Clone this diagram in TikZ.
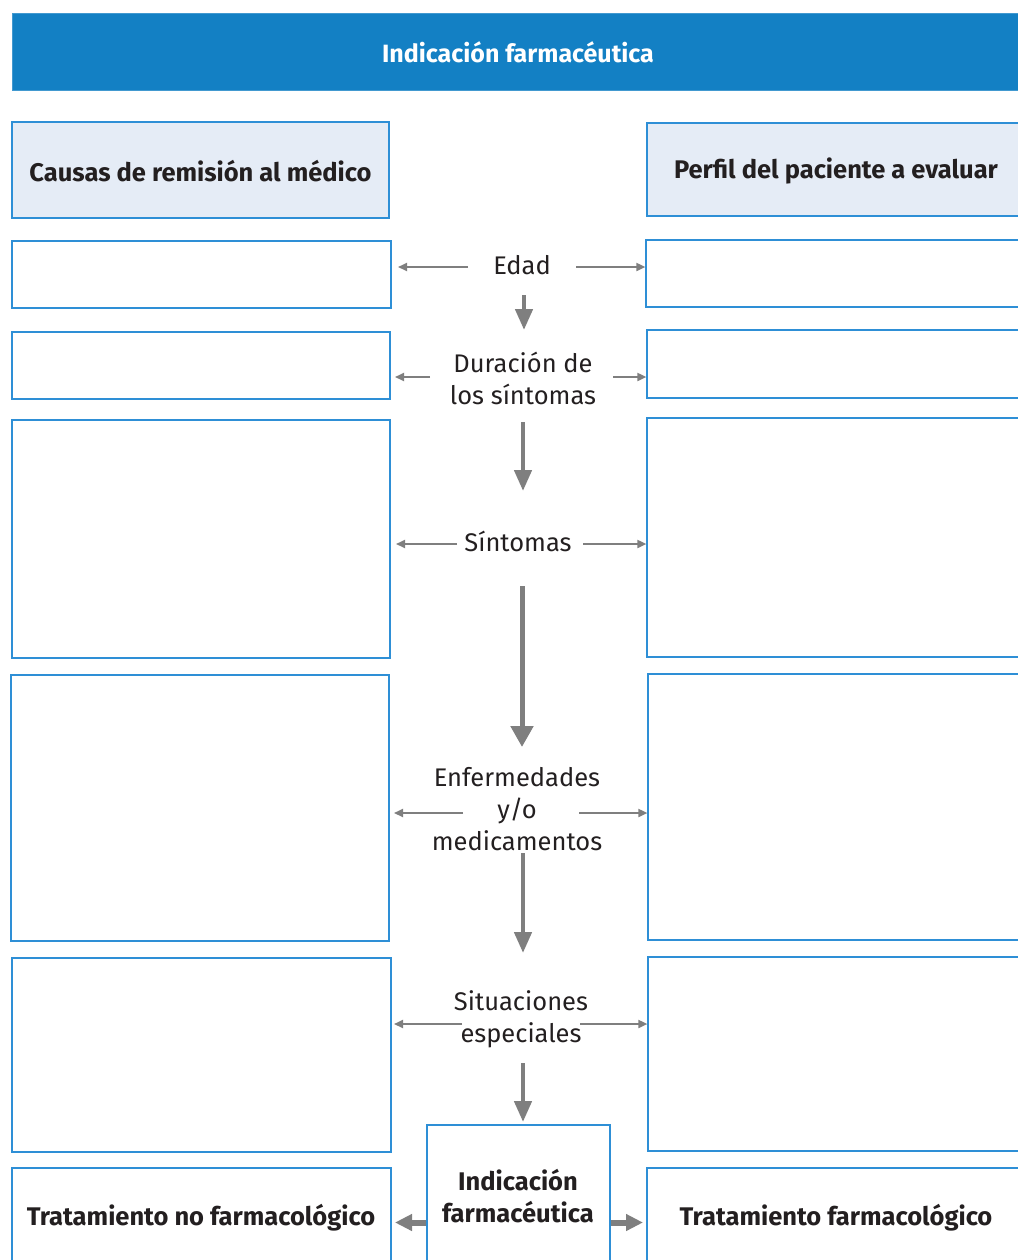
\documentclass[tikz,border=0pt]{standalone}
\usepackage{fontspec}
\setmainfont{Fira Sans}
\usetikzlibrary{arrows.meta,fit}
\definecolor{headblue}{HTML}{1380C4}
\definecolor{boxblue}{HTML}{2E8FD6}
\definecolor{panefill}{HTML}{E5ECF6}
\definecolor{arrowgray}{HTML}{7F7F7F}
\definecolor{inkdark}{HTML}{231F20}
\tikzset{
  box/.style={draw=boxblue, line width=1.2bp, inner sep=0pt, fill=white},
  headpane/.style={box, fill=panefill},
  boldtext/.style={text=inkdark, align=center, inner sep=0pt, font=\bfseries\fontsize{25.5bp}{32bp}\selectfont},
  steplabel/.style={text=inkdark, align=center, inner sep=0pt, font=\fontsize{25.5bp}{32bp}\selectfont},
  sidearrow/.style={draw=arrowgray, line width=1.8bp, -{Triangle[length=9bp,width=8bp]}},
  downarrow/.style={draw=arrowgray, line width=4.5bp, -{Triangle[length=21bp,width=17bp]}},
  longarrow/.style={draw=arrowgray, line width=5bp, -{Triangle[length=21bp,width=22bp]}},
  exitarrow/.style={draw=arrowgray, line width=6bp, -{Triangle[length=17bp,width=16bp]}},
}
\begin{document}
\begin{tikzpicture}[x=1bp, y={(0bp,-1bp)}]
\useasboundingbox (0,0) rectangle (1018,1260);

% title bar
\node[fill=headblue, draw=headblue!80!white, line width=0.8bp, inner sep=0pt,
      fit={(12,13) (1024,90)}] (title) {};
\node[boldtext, text=white, font=\bfseries\fontsize{25bp}{30bp}\selectfont] (titletext) at (518,52) {Indicación farmacéutica};

% column headers
\node[headpane, fit={(12,122) (389,218)}] (L0) {};
\node[boldtext] (L0text) at (200.5,171) {Causas de remisión al médico};
\node[headpane, fit={(647,123) (1024,216)}] (R0) {};
\node[boldtext] (R0text) at (836,171) {Perfil del paciente a evaluar};

% left column boxes
\node[box, fit={(12,241) (391,308)}] (L1) {};
\node[box, fit={(12,332) (390,399)}] (L2) {};
\node[box, fit={(12,420) (390,658)}] (L3) {};
\node[box, fit={(11,675) (389,941)}] (L4) {};
\node[box, fit={(12,958) (391,1152)}] (L5) {};
\node[box, fit={(12,1168) (391,1275)}] (L6) {};
\node[boldtext] (L6text) at (201,1218) {Tratamiento no farmacológico};

% right column boxes
\node[box, fit={(646,240) (1024,307)}] (R1) {};
\node[box, fit={(647,330) (1024,398)}] (R2) {};
\node[box, fit={(647,418) (1024,657)}] (R3) {};
\node[box, fit={(648,674) (1024,940)}] (R4) {};
\node[box, fit={(648,957) (1024,1151)}] (R5) {};
\node[box, fit={(647,1168) (1024,1275)}] (R6) {};
\node[boldtext] (R6text) at (836,1218) {Tratamiento farmacológico};

% final decision box
\node[box, fit={(427,1125) (610,1275)}] (C) {};
\node[boldtext] (Ctext) at (518,1196) {Indicación\\farmacéutica};

% central steps
\node[steplabel] (edad) at (522,265) {Edad};
\node[steplabel] (dur) at (523,378) {Duración de\\los síntomas};
\node[steplabel] (sint) at (518,541) {Síntomas};
\node[steplabel] (enf) at (517,809) {Enfermedades\\y/o\\medicamentos};
\node[steplabel] (sit) at (521,1019) {Situaciones\\especiales};

% arrow anchor points
\coordinate (e-l) at (468,267);  \coordinate (e-r) at (576,267);
\coordinate (d-l) at (430,377);  \coordinate (d-r) at (613,377);
\coordinate (s-l) at (457,544);  \coordinate (s-r) at (583,544);
\coordinate (n-l) at (463,813);  \coordinate (n-r) at (579,813);
\coordinate (t-l) at (462,1024); \coordinate (t-r) at (580,1024);

% side arrows
\draw[sidearrow] (e-l) -- (398,267);
\draw[sidearrow] (e-r) -- (R1.west |- e-r);
\draw[sidearrow] (d-l) -- (395,377);
\draw[sidearrow] (d-r) -- (R2.west |- d-r);
\draw[sidearrow] (s-l) -- (396,544);
\draw[sidearrow] (s-r) -- (R3.west |- s-r);
\draw[sidearrow] (n-l) -- (394,813);
\draw[sidearrow] (n-r) -- (R4.west |- n-r);
\draw[sidearrow] (t-l) -- (394,1024);
\draw[sidearrow] (t-r) -- (R5.west |- t-r);

% downward flow
\draw[downarrow] (524,295) -- (524,330);
\draw[downarrow] (523,422) -- (523,491);
\draw[longarrow] (522,586) -- (522,747);
\draw[downarrow] (523,853) -- (523,953);
\draw[downarrow] (523,1063) -- (523,1122);

% outcomes
\draw[exitarrow] (C.west |- 0,1222.5) -- (395,1222.5);
\draw[exitarrow] (C.east |- 0,1222.5) -- (643,1222.5);
\end{tikzpicture}
\end{document}
